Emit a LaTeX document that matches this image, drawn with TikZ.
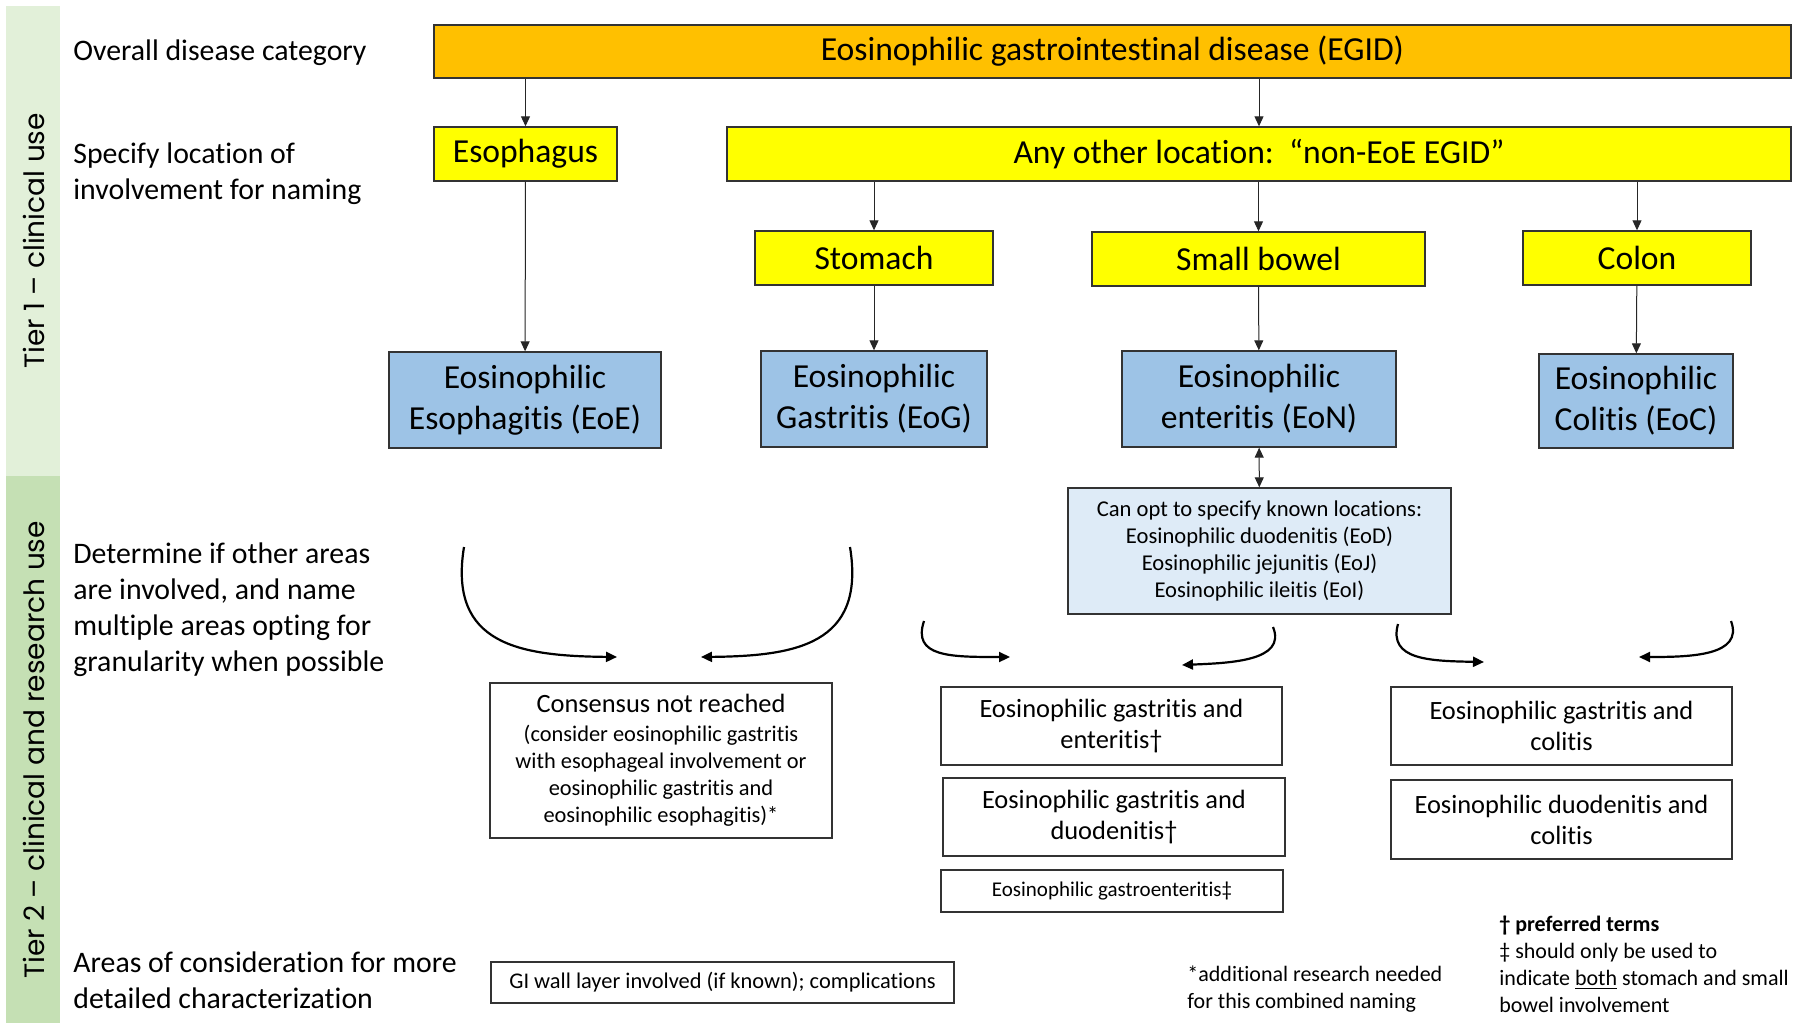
\documentclass[tikz,border=0pt]{standalone}
\usepackage{fontspec}
\setmainfont{Carlito}[Ligatures=NoCommon]
\newfontfamily\tierfont{Poppins}
\usetikzlibrary{arrows.meta}
\definecolor{egidor}{HTML}{FFC000}
\definecolor{ylw}{HTML}{FFFF00}
\definecolor{blu}{HTML}{9DC3E6}
\definecolor{ltblu}{HTML}{DEEBF7}
\definecolor{tierone}{HTML}{E2F0D9}
\definecolor{tiertwo}{HTML}{C5E0B4}
\tikzset{
  box/.style={draw=black!80, line width=0.7pt, align=center, inner sep=2pt},
  obox/.style={box, fill=egidor, font=\fontsize{16.8}{20}\selectfont},
  ybox/.style={box, fill=ylw, font=\fontsize{16.8}{20}\selectfont},
  bbox/.style={box, fill=blu, font=\fontsize{16.8}{20.5}\selectfont},
  wbox/.style={box, fill=white, font=\fontsize{13.2}{15.5}\selectfont},
  sbox/.style={box, fill=white, font=\fontsize{11.2}{13.5}\selectfont},
  lbl/.style={anchor=west, align=left, inner sep=0pt, font=\fontsize{14.9}{18}\selectfont},
  foot/.style={anchor=west, align=left, inner sep=0pt, font=\fontsize{11}{13.5}\selectfont},
  tier/.style={rotate=90, inner sep=0pt, font=\tierfont\fontsize{14}{16}\selectfont},
  arr/.style={-{Triangle[length=5pt,width=4.5pt]}, line width=0.5pt, draw=black!85},
  darr/.style={{Triangle[length=5pt,width=4.5pt]}-{Triangle[length=5pt,width=4.5pt]}, line width=0.5pt, draw=black!85},
  curv/.style={-{Triangle[length=5.5pt,width=5pt]}, line width=1.1pt},
}
\begin{document}
\begin{tikzpicture}[x=0.5pt,y=-0.5pt]
\useasboundingbox (0,0) rectangle (1800,1028);
\fill[white] (0,0) rectangle (1800,1028);
% tier bands
\fill[tierone] (6,6) rectangle (60,476);
\fill[tiertwo] (6,476) rectangle (60,1023);
\node[tier] (t1) at (34,241) {Tier 1 – clinical use};
\node[tier] (t2) at (34,750) {Tier 2 – clinical and research use};
% left labels
\node[lbl] (l1) at (73,52.5) {Overall disease category};
\node[lbl] (l2) at (73,173.5) {Specify location of\\involvement for naming};
\node[lbl] (l3) at (73,609.5) {Determine if other areas\\are involved, and name\\multiple areas opting for\\granularity when possible};
\node[lbl] (l4) at (73,980) {Areas of consideration for more\\detailed characterization};
% tier 1 boxes
\node[obox, minimum width=678.5pt, minimum height=26.5pt] (egid) at (1112.5,51.5) {Eosinophilic gastrointestinal disease (EGID)};
\node[ybox, minimum width=91.5pt, minimum height=27pt] (esoph) at (525.5,154) {Esophagus};
\node[ybox, minimum width=532pt, minimum height=27pt] (other) at (1259,154) {Any other location:\ \ “non-EoE EGID”};
\node[ybox, minimum width=119pt, minimum height=27pt] (stom) at (874,258) {Stomach};
\node[ybox, minimum width=166.5pt, minimum height=27pt] (smb) at (1258.5,259) {Small bowel};
\node[ybox, minimum width=114pt, minimum height=27pt] (colon) at (1637,258) {Colon};
\node[bbox, minimum width=136pt, minimum height=48pt] (eoe) at (525,400) {Eosinophilic\\Esophagitis (EoE)};
\node[bbox, minimum width=113pt, minimum height=48pt] (eog) at (874,399) {Eosinophilic\\Gastritis (EoG)};
\node[bbox, minimum width=137pt, minimum height=48pt] (eon) at (1259,399) {Eosinophilic\\enteritis (EoN)};
\node[bbox, minimum width=97pt, minimum height=47pt] (eoc) at (1636,401) {Eosinophilic\\Colitis (EoC)};
% connectors tier 1
\draw[arr] (esoph.north |- egid.south) -- (esoph.north);
\draw[arr] (other.north |- egid.south) -- (other.north);
\draw[arr] (stom.north |- other.south) -- (stom.north);
\draw[arr] (smb.north |- other.south) -- (smb.north);
\draw[arr] (colon.north |- other.south) -- (colon.north);
\draw[arr] (esoph) -- (eoe);
\draw[arr] (stom) -- (eog);
\draw[arr] (smb) -- (eon);
\draw[arr] (colon) -- (eoc);
% tier 2
\node[box, fill=ltblu, font=\fontsize{11.3}{13.6}\selectfont, minimum width=191.5pt, minimum height=63pt] (known) at (1259.5,551) {Can opt to specify known locations:\\Eosinophilic duodenitis (EoD)\\Eosinophilic jejunitis (EoJ)\\Eosinophilic ileitis (EoI)};
\draw[darr] (eon) -- (known);
\node[sbox, minimum width=171pt, minimum height=77.5pt] (cons) at (661,760.5) {{\fontsize{13.2}{15}\selectfont Consensus not reached}\\[1pt](consider eosinophilic gastritis\\with esophageal involvement or\\eosinophilic gastritis and\\eosinophilic esophagitis)*};
\node[wbox, minimum width=170.5pt, minimum height=39pt] (ge) at (1111.5,726) {Eosinophilic gastritis and\\enteritis†};
\node[wbox, minimum width=171pt, minimum height=39pt] (gd) at (1114,817) {Eosinophilic gastritis and\\duodenitis†};
\node[box, fill=white, font=\fontsize{10.5}{12}\selectfont, minimum width=171pt, minimum height=21pt] (gen) at (1112,891) {Eosinophilic gastroenteritis‡};
\node[wbox, minimum width=170.5pt, minimum height=39pt] (gc) at (1561.5,726) {Eosinophilic gastritis and\\colitis};
\node[wbox, minimum width=170.5pt, minimum height=39.5pt] (dc) at (1561.5,819.5) {Eosinophilic duodenitis and\\colitis};
\node[sbox, minimum width=231.5pt, minimum height=20.5pt] (gi) at (722.5,982.5) {GI wall layer involved (if known); complications};
% curved arrows
\coordinate (a1s) at (464,547); \coordinate (a1e) at (617,657);
\coordinate (a2s) at (850,547); \coordinate (a2e) at (701,657);
\coordinate (b1s) at (924,621); \coordinate (b1e) at (1010,657);
\coordinate (b2s) at (1273,627); \coordinate (b2e) at (1182,665);
\coordinate (c1s) at (1398,624); \coordinate (c1e) at (1484,662);
\coordinate (c2s) at (1731,621); \coordinate (c2e) at (1639,657);
\draw[curv] (a1s) .. controls (448,645) and (520,656) .. (a1e);
\draw[curv] (a2s) .. controls (866,645) and (795,656) .. (a2e);
\draw[curv] (b1s) .. controls (912,657) and (950,657) .. (b1e);
\draw[curv] (b2s) .. controls (1287,661) and (1230,663) .. (b2e);
\draw[curv] (c1s) .. controls (1388,660) and (1430,661) .. (c1e);
\draw[curv] (c2s) .. controls (1744,656) and (1690,657) .. (c2e);
% footnotes
\node[foot] (f1) at (1187,989) {*additional research needed\\for this combined naming};
\node[foot] (f2) at (1499,964) {\textbf{† preferred terms}\\‡ should only be used to\\indicate \underline{both} stomach and small\\bowel involvement};
\end{tikzpicture}
\end{document}
